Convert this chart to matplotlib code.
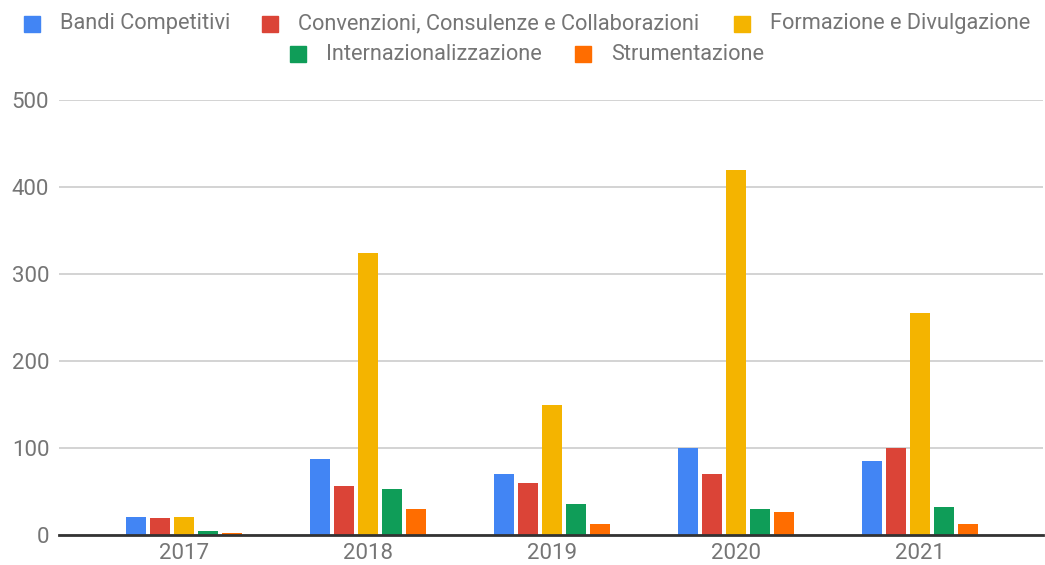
import matplotlib
matplotlib.use("Agg")
import matplotlib.pyplot as plt
from matplotlib.patches import Rectangle
import numpy as np

# Data
years = ["2017", "2018", "2019", "2020", "2021"]
series_names = ["Bandi Competitivi", "Convenzioni, Consulenze e Collaborazioni",
                "Formazione e Divulgazione", "Internazionalizzazione", "Strumentazione"]
bandi = [21, 87, 70, 100, 85]
convenzioni = [19, 56, 60, 70, 100]
formazione = [21, 324, 149, 420, 255]
internaz = [5, 53, 36, 30, 32]
strumentazione = [2, 30, 13, 26, 13]
colors = ["#4285F4", "#DB4437", "#F4B400", "#0F9D58", "#FF6D00"]

all_series = [bandi, convenzioni, formazione, internaz, strumentazione]

W, H = 1045, 565
fig = plt.figure(figsize=(W / 100, H / 100), dpi=100)
plt.rcParams['font.family'] = ['Roboto', 'DejaVu Sans']

# axes in pixel terms: left 59, right 1043, top 100 (=500), bottom 535 (=0)
ax = fig.add_axes([59 / W, 1 - 535 / H, (1043 - 59) / W, (535 - 100) / H])

x = np.arange(len(years))
step = 0.13
width = 0.108
for i, vals in enumerate(all_series):
    ax.bar(x + (i - 2) * step, vals, width=width, color=colors[i], zorder=3)

ax.set_ylim(0, 500)
ax.set_xlim(-0.679, 4.668)
ax.set_yticks([0, 100, 200, 300, 400, 500])
ax.set_xticks(x)
ax.set_xticklabels(years)
ax.yaxis.grid(True, color="#cccccc", linewidth=1.2, zorder=0)
ax.tick_params(axis="both", length=0, labelsize=16, colors="#757575")
ax.tick_params(axis="y", pad=7)
ax.tick_params(axis="x", pad=6)
for s in ["top", "right", "left"]:
    ax.spines[s].set_visible(False)
ax.spines["bottom"].set_color("#333333")
ax.spines["bottom"].set_linewidth(2)
ax.spines["bottom"].set_zorder(4)

# manual legend, two rows centred
legend_items = [
    (24, 24, 0), (262, 24, 1), (734, 24, 2),
    (290, 54, 3), (575, 54, 4),
]
for px, py, idx in legend_items:
    fig.patches.append(Rectangle((px / W, 1 - (py + 8) / H), 16 / W, 16 / H,
                                 transform=fig.transFigure, color=colors[idx]))
    fig.text((px + 36) / W, 1 - py / H, series_names[idx], fontsize=15.7,
             color="#757575", va="center", ha="left")

fig.savefig("out.png", dpi=100)
